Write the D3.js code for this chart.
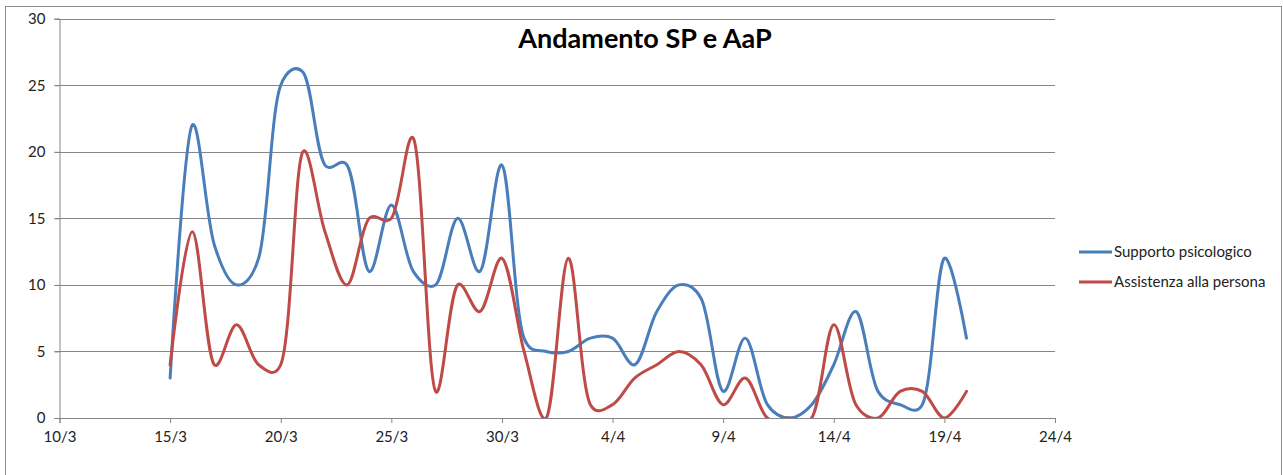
<!DOCTYPE html>
<html>
<head>
<meta charset="utf-8">
<script src="https://cdn.jsdelivr.net/npm/d3@7"></script>
<style>
  body { margin: 0; background: #fff; }
  text { font-family: Lato, "Open Sans", sans-serif; }
</style>
</head>
<body>
<script>
// giorni (d/m) e valori
var giorni = ["15/3","16/3","17/3","18/3","19/3","20/3","21/3","22/3","23/3","24/3","25/3","26/3","27/3","28/3","29/3","30/3","31/3",
              "1/4","2/4","3/4","4/4","5/4","6/4","7/4","8/4","9/4","10/4","11/4","12/4","13/4","14/4","15/4","16/4","17/4","18/4","19/4","20/4"];
var supporto = [3,22,13,10,12,25,26,19,19,11,16,11,10,15,11,19,6,5,5,6,6,4,8,10,9,2,6,1,0,1,4,8,2,1,1,12,6];
var assistenza = [4,14,4,7,4,4,20,14,10,15,15,21,2,10,8,12,5,0,12,1,1,3,4,5,4,1,3,0,0,0,7,1,0,2,2,0,2];
var xTicks = ["10/3","15/3","20/3","25/3","30/3","4/4","9/4","14/4","19/4","24/4"];
var yTicks = [0,5,10,15,20,25,30];
var serie = [
  {nome: "Supporto psicologico", valori: supporto, colore: "#4a7ebb"},
  {nome: "Assistenza alla persona", valori: assistenza, colore: "#be4b48"}
];

function parseGiorno(s) {
  var p = s.split("/");
  return new Date(Date.UTC(2020, +p[1] - 1, +p[0]));
}

function grafico() {
  var W = 1283, H = 475;
  var margin = {left: 59.5, right: 1055, top: 18.7, bottom: 418};

  var svg = d3.select("body").append("svg")
    .attr("width", W)
    .attr("height", H);

  // cornice del grafico
  svg.append("rect")
    .attr("x", 5.5).attr("y", 6.5)
    .attr("width", 1276).attr("height", 480)
    .attr("fill", "#fff")
    .attr("stroke", "#8c8c8c")
    .attr("stroke-width", 1);

  var x = d3.scaleUtc()
    .domain([parseGiorno(xTicks[0]), parseGiorno(xTicks[xTicks.length - 1])])
    .range([margin.left, margin.right]);

  var y = d3.scaleLinear()
    .domain([0, 30])
    .range([margin.bottom, margin.top]);

  // griglia orizzontale
  svg.append("g")
    .selectAll("line")
    .data(yTicks.slice(1))
    .join("line")
    .attr("x1", margin.left - 5).attr("x2", margin.right)
    .attr("y1", d => Math.round(y(d)) + 0.5)
    .attr("y2", d => Math.round(y(d)) + 0.5)
    .attr("stroke", "#868686")
    .attr("stroke-width", 1);

  // asse y
  var yAxis = svg.append("g")
    .attr("transform", "translate(" + margin.left + ",0)")
    .call(d3.axisLeft(y).tickValues(yTicks).tickSize(5).tickPadding(9));
  yAxis.select(".domain").attr("stroke", "#868686");
  yAxis.selectAll(".tick line").attr("stroke", "#868686");
  yAxis.selectAll("text")
    .attr("fill", "#222")
    .style("font-size", "15px");

  // asse x
  var xAxis = svg.append("g")
    .attr("transform", "translate(0," + margin.bottom + ")")
    .call(d3.axisBottom(x)
      .tickValues(xTicks.map(parseGiorno))
      .tickFormat((d, i) => xTicks[i])
      .tickSize(5).tickPadding(8));
  xAxis.select(".domain").attr("stroke", "#868686");
  xAxis.selectAll(".tick line").attr("stroke", "#868686");
  xAxis.selectAll("text")
    .attr("fill", "#222")
    .style("font-size", "15px");

  // clip sull'area del grafico
  svg.append("clipPath").attr("id", "area")
    .append("rect")
    .attr("x", margin.left).attr("y", margin.top - 5)
    .attr("width", margin.right - margin.left)
    .attr("height", margin.bottom - margin.top + 5);

  var line = d3.line()
    .x((d, i) => x(parseGiorno(giorni[i])))
    .y(d => y(d))
    .curve(d3.curveCatmullRom.alpha(0.25));

  svg.append("g")
    .attr("clip-path", "url(#area)")
    .selectAll("path")
    .data(serie)
    .join("path")
    .attr("d", d => line(d.valori))
    .attr("fill", "none")
    .attr("stroke", d => d.colore)
    .attr("stroke-width", 3)
    .attr("stroke-linejoin", "round")
    .attr("stroke-linecap", "round");

  // titolo
  svg.append("text")
    .attr("x", 645)
    .attr("y", 48)
    .attr("text-anchor", "middle")
    .style("font-size", "27px")
    .style("font-weight", "bold")
    .attr("fill", "#000")
    .text("Andamento SP e AaP");

  // legenda
  var leg = svg.append("g")
    .selectAll("g")
    .data(serie)
    .join("g")
    .attr("transform", (d, i) => "translate(1079," + (252 + i * 30) + ")");

  leg.append("line")
    .attr("x1", 0).attr("x2", 33)
    .attr("stroke", d => d.colore)
    .attr("stroke-width", 3);

  leg.append("text")
    .attr("x", 35)
    .attr("y", 5)
    .attr("fill", "#222")
    .style("font-size", "15px")
    .text(d => d.nome);
}

grafico();
</script>
</body>
</html>
